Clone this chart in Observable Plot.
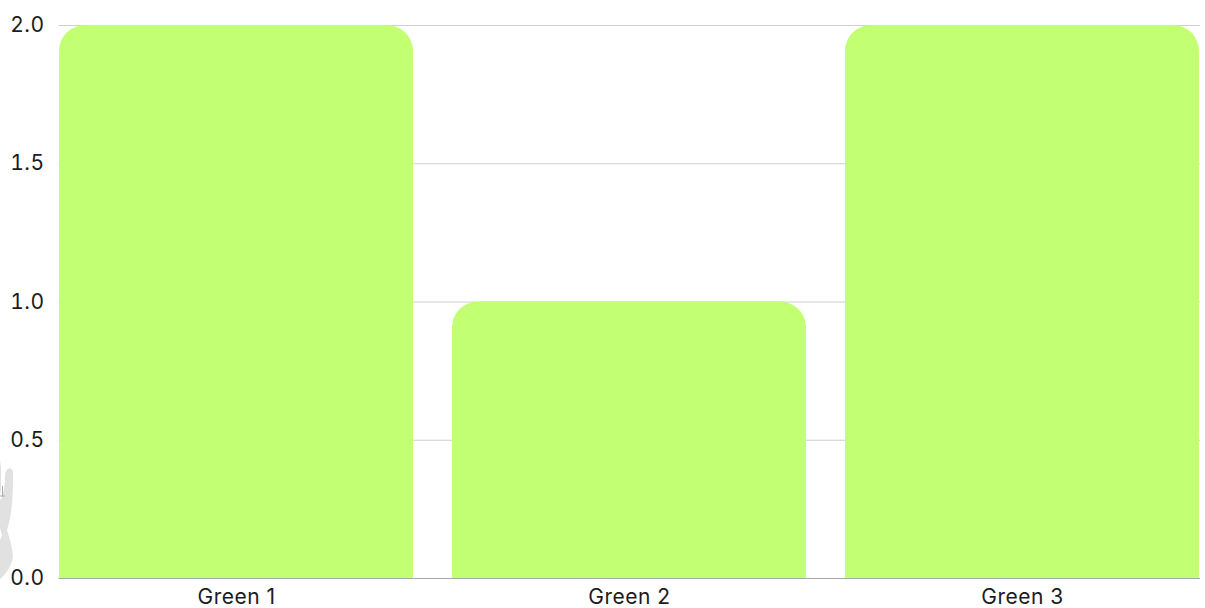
<!DOCTYPE html>
<html>
<head>
<meta charset="utf-8">
<script src="https://cdn.jsdelivr.net/npm/d3@7"></script>
<script src="https://cdn.jsdelivr.net/npm/@observablehq/plot@0.6"></script>
<style>
html,body{margin:0;padding:0;background:#fff;overflow:hidden}
#wrap{position:relative;width:1205px;height:608px}
#hand{position:absolute;left:0;top:460px}
</style>
</head>
<body>
<div id="wrap"></div>
<script>
const categories = ["Green 1", "Green 2", "Green 3"];
const values = [2, 1, 2];
const yTicks = [0, 0.5, 1, 1.5, 2];
const barColor = "#c2ff73";
const gridColor = "#cfcfcf";
const baseColor = "#a8a8a8";
const textColor = "#1c1c1c";
const table = categories.map((name, i) => ({name, value: values[i]}));

const chart = Plot.plot({
  width: 1205,
  height: 608,
  marginLeft: 58.5,
  marginRight: 5,
  marginTop: 25,
  marginBottom: 30,
  style: {fontFamily: "Inter, 'Noto Sans', sans-serif", fontSize: "21px", letterSpacing: "0.5px", background: "#fff", color: textColor},
  x: {domain: categories, paddingInner: 0.1, paddingOuter: 0, label: null},
  y: {domain: [0, 2], label: null},
  marks: [
    Plot.ruleY(yTicks.filter(d => d > 0), {stroke: gridColor, strokeOpacity: 1, strokeWidth: 1}),
    Plot.ruleY([0], {stroke: baseColor, strokeWidth: 1}),
    Plot.barY(table, {x: "name", y: "value", fill: barColor, ry1: 26}),
    Plot.axisY({ticks: yTicks, tickFormat: d3.format(".1f"), tickSize: 0, tickPadding: 14.5, label: null, fontSize: 21, fill: textColor}),
    Plot.axisX({tickSize: 0, tickPadding: 11, label: null, fontSize: 21, fill: textColor})
  ]
});
document.getElementById("wrap").appendChild(chart);

// faint hand watermark at the left edge of the reference
const hand = d3.create("svg").attr("id", "hand").attr("width", 16).attr("height", 125);
hand.append("path")
  .attr("d", "M5 16 C5 9 11 5 13 12 C13 30 13 50 7 70 C10 80 13 90 13 97 C11 108 4 116 0 119 L0 80 L2 75 L0 68 L0 40 C2 38 5 30 5 16 Z")
  .attr("fill", "#e1e1e1");
hand.append("path").attr("d", "M0 0 L1 8 L1 30 L0 36 Z").attr("fill", "#e1e1e1");
hand.append("path").attr("d", "M2.5 26 L2.5 36 M0 36 L5 36").attr("stroke", "#a9a9a9").attr("fill", "none");
document.getElementById("wrap").appendChild(hand.node());
</script>
</body>
</html>
